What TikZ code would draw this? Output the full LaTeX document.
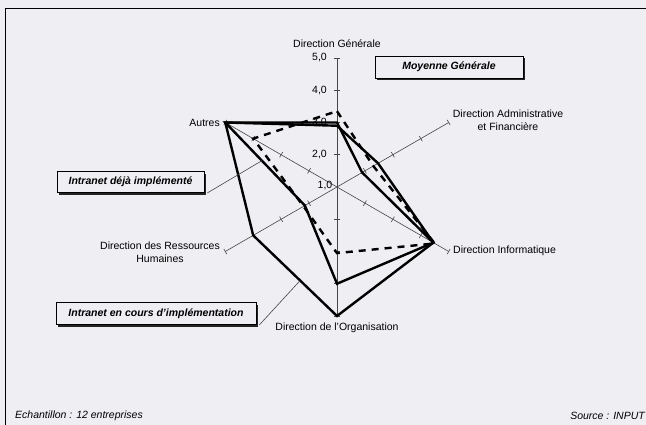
\documentclass[tikz,border=0pt]{standalone}
\usepackage{fontspec}
\setmainfont{Liberation Sans}
\usetikzlibrary{calc,shadows}
\definecolor{paper}{RGB}{238,238,243}
\definecolor{axisgray}{RGB}{70,70,70}
% point on a radar axis: name, angle, value (scale 1..5, 32.25pt per unit)
\newcommand\radarpt[3]{\coordinate (#1) at ($(C)+(#2:{(#3-1)*32.25})$);}
\begin{document}
\begin{tikzpicture}[x=1pt,y=1pt,
  lbl/.style={font=\fontsize{10.5}{12.5}\selectfont, inner sep=1pt},
  ticklbl/.style={lbl, anchor=east},
  radaraxis/.style={draw=axisgray, line width=0.6pt},
  serie/.style={line width=2.4pt, line join=miter},
  avgserie/.style={serie, dash pattern=on 7pt off 6pt},
  legendbox/.style={draw, line width=0.8pt, fill=paper,
    font=\fontsize{10.5}{12.5}\selectfont\bfseries\itshape,
    drop shadow={shadow xshift=2.2pt, shadow yshift=-2.2pt, fill=black, opacity=0.85}},
  leader/.style={draw=axisgray, line width=0.6pt}]
\fill[paper] (0,0) rectangle (646,425);
\useasboundingbox (0,0) rectangle (646,425);

% frame
\draw[line width=0.9pt] (5.5,0) -- (5.5,417) -- (646,417);

% centre of the radar
\coordinate (C) at (337,238);

% axes with ticks at each unit
\foreach \nm/\ang in {dg/90,daf/30,di/-30,do/-90,drh/210,au/150}{
  \coordinate (end-\nm) at ($(C)+(\ang:129)$);
  \draw[radaraxis] (C) -- (end-\nm);
  \foreach \k in {1,2,3,4}
    \draw[radaraxis] ($(C)+(\ang:{\k*32.25})+(\ang+90:3)$) -- ++(\ang-90:6);
}

% scale labels
\node[ticklbl] (v5) at (328,367) {5,0};
\node[ticklbl] (v4) at (328,334.75) {4,0};
\node[ticklbl] (v3) at (328,302.5) {3,0};
\node[ticklbl] (v2) at (328,270.25) {2,0};
\node[ticklbl] (v1) at (333.5,239) {1,0};

% axis labels
\node[lbl] (l-dg) at (337,381) {Direction Générale};
\node[lbl, align=center] (l-daf) at (508,304.5) {Direction Administrative\\et Financière};
\node[lbl, anchor=west] (l-di) at (452,174) {Direction Informatique};
\node[lbl] (l-do) at (337,97) {Direction de l'Organisation};
\node[lbl, align=center] (l-drh) at (160,172.5) {Direction des Ressources\\Humaines};
\node[lbl, anchor=east] (l-au) at (221,302.5) {Autres};

% Intranet déjà implémenté
\radarpt{dej-dg}{90}{3.0}
\radarpt{dej-daf}{30}{1.9}
\radarpt{dej-di}{-30}{4.45}
\radarpt{dej-do}{-90}{4.0}
\radarpt{dej-drh}{210}{2.15}
\radarpt{dej-au}{150}{5.0}
% Intranet en cours d'implémentation
\radarpt{enc-dg}{90}{2.9}
\radarpt{enc-daf}{30}{2.47}
\radarpt{enc-di}{-30}{4.45}
\radarpt{enc-do}{-90}{5.0}
\radarpt{enc-drh}{210}{4.0}
\radarpt{enc-au}{150}{5.0}
% Moyenne générale
\radarpt{moy-dg}{90}{3.35}
\radarpt{moy-daf}{30}{2.3}
\radarpt{moy-di}{-30}{4.5}
\radarpt{moy-do}{-90}{3.05}
\radarpt{moy-drh}{210}{2.2}
\radarpt{moy-au}{150}{4.0}

\draw[avgserie] (moy-dg) -- (moy-daf) -- (moy-di) -- (moy-do) -- (moy-drh) -- (moy-au) -- cycle;
\draw[serie] (dej-dg) -- (dej-daf) -- (dej-di) -- (dej-do) -- (dej-drh) -- (dej-au) -- cycle;
\draw[serie] (enc-dg) -- (enc-daf) -- (enc-di) -- (enc-do) -- (enc-drh) -- (enc-au) -- cycle;

% legend boxes
\node[legendbox, minimum width=148pt, minimum height=22pt] (b-moy) at (449,358) {Moyenne Générale};
\node[legendbox, minimum width=147pt, minimum height=21pt] (b-dej) at (130.5,243) {Intranet déjà implémenté};
\node[legendbox, minimum width=200pt, minimum height=22pt] (b-enc) at (156,111.5) {Intranet en cours d'implémentation};

% leader lines
\coordinate (t-dej) at ($(dej-au)!0.46!(dej-drh)$);
\coordinate (t-enc) at ($(enc-drh)!0.56!(enc-do)$);
\draw[leader] ($(b-dej.south east)+(3,0)$) -- (t-dej);
\draw[leader] ($(b-enc.south east)+(3,0)$) -- (t-enc);

% footer
\node[lbl, anchor=west, font=\fontsize{10.5}{12.5}\selectfont\itshape] (f-ech) at (14,9) {Echantillon : 12 entreprises};
\node[lbl, anchor=east, font=\fontsize{10.5}{12.5}\selectfont\itshape] (f-src) at (646,9) {Source : INPUT};
\end{tikzpicture}
\end{document}
